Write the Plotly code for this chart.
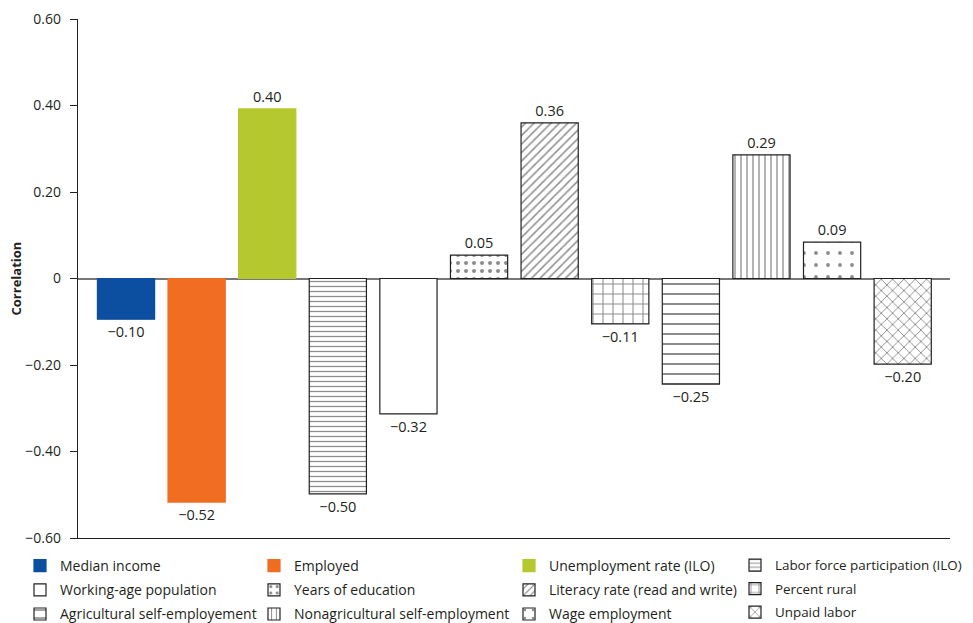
import plotly.graph_objects as go

categories = [
    "Median income", "Employed", "Unemployment rate (ILO)", "Labor force participation (ILO)",
    "Working-age population", "Years of education", "Literacy rate (read and write)", "Percent rural",
    "Agricultural self-employement", "Nonagricultural self-employment", "Wage employment", "Unpaid labor",
]
values = [-0.094, -0.517, 0.392, -0.498, -0.313, 0.054, 0.360, -0.105, -0.244, 0.286, 0.084, -0.198]
value_labels = ["\u22120.10", "\u22120.52", "0.40", "\u22120.50", "\u22120.32", "0.05", "0.36",
                "\u22120.11", "\u22120.25", "0.29", "0.09", "\u22120.20"]
y_ticks = [-0.6, -0.4, -0.2, 0, 0.2, 0.4, 0.6]
y_tick_labels = ["\u22120.60", "\u22120.40", "\u22120.20", "0", "0.20", "0.40", "0.60"]

# style per bar: (fill colour, pattern shape, pattern size, solidity, outline)
styles = [
    ("#0c4ea0", "", 8, 0.3, "#0c4ea0"),
    ("#f06d22", "", 8, 0.3, "#f06d22"),
    ("#b5c92e", "", 8, 0.3, "#b5c92e"),
    ("white", "-", 5, 0.25, "#222222"),
    ("white", "", 8, 0.3, "#222222"),
    ("white", ".", 8, 0.2, "#222222"),
    ("white", "/", 6, 0.25, "#222222"),
    ("white", "+", 10, 0.2, "#222222"),
    ("white", "-", 10, 0.2, "#222222"),
    ("white", "|", 6, 0.22, "#222222"),
    ("white", ".", 12, 0.08, "#222222"),
    ("white", "x", 8, 0.22, "#222222"),
]

FONT = "Open Sans"
legend_names = ["legend", "legend2", "legend3", "legend4"]
legend_font_sizes = [14, 14, 14, 13.4]

# page body margin offset (figure drawn at 8,8 in the window)
OFF = 8
W, H = 973 - OFF, 623 - OFF
# plot area in window pixels -> figure pixels
PL, PR, PT, PB = 78 - OFF, 950 - OFF, 19 - OFF, 538 - OFF
PW, PH = PR - PL, PB - PT

fig = go.Figure()
for i, (cat, val, lab) in enumerate(zip(categories, values, value_labels)):
    color, shape, size, sol, line = styles[i]
    marker = dict(color=color, line=dict(color=line, width=1.2))
    if shape:
        marker["pattern"] = dict(shape=shape, size=size, solidity=sol,
                                 fgcolor="#1a1a1a", bgcolor="white", fillmode="overlay")
    fig.add_trace(go.Bar(
        x=[i], y=[val], name=cat, width=0.81,
        text=[lab], textposition="outside", cliponaxis=False,
        textfont=dict(family=FONT, size=14.5, color="#231f20"),
        marker=marker,
        legend=legend_names[i % 4],
        legendgroup="g%d" % i,
    ))

col_text_x = [60, 294, 549, 775]
legends = {}
for k, name in enumerate(legend_names):
    legends[name] = dict(
        orientation="v", yanchor="top", xanchor="left",
        bgcolor="rgba(0,0,0,0)", itemwidth=30, tracegroupgap=3,
        font=dict(family=FONT, size=legend_font_sizes[k], color="#231f20"),
        x=(col_text_x[k] - OFF - 40 - PL) / PW,
        y=(PB - (550 - OFF)) / PH,
    )

fig.update_layout(
    width=W, height=H,
    margin=dict(l=PL, r=W - PR, t=PT, b=H - PB, autoexpand=False),
    paper_bgcolor="white", plot_bgcolor="white",
    barmode="overlay",
    showlegend=True,
    font=dict(family=FONT, color="#231f20"),
    xaxis=dict(range=[-0.68, 11.67], showticklabels=False, ticks="", showgrid=False,
               zeroline=False, showline=True, linecolor="#231f20", linewidth=1.3),
    yaxis=dict(range=[-0.6, 0.6], tickvals=y_ticks, ticktext=y_tick_labels,
               ticks="outside", ticklen=7, tickcolor="#231f20", tickwidth=1,
               ticklabelstandoff=6,
               tickfont=dict(family=FONT, size=14, color="#231f20"),
               showgrid=False, showline=True, linecolor="#231f20", linewidth=1.3,
               zeroline=True, zerolinecolor="#777777", zerolinewidth=1.5),
    annotations=[dict(text="<b>Correlation</b>", textangle=-90, xref="paper", yref="paper",
                      x=(15 - OFF - PL) / PW, y=0.5, xanchor="center", yanchor="middle",
                      showarrow=False, font=dict(family=FONT, size=13, color="#231f20"))],
    **legends,
)

fig.write_html("out.html")
